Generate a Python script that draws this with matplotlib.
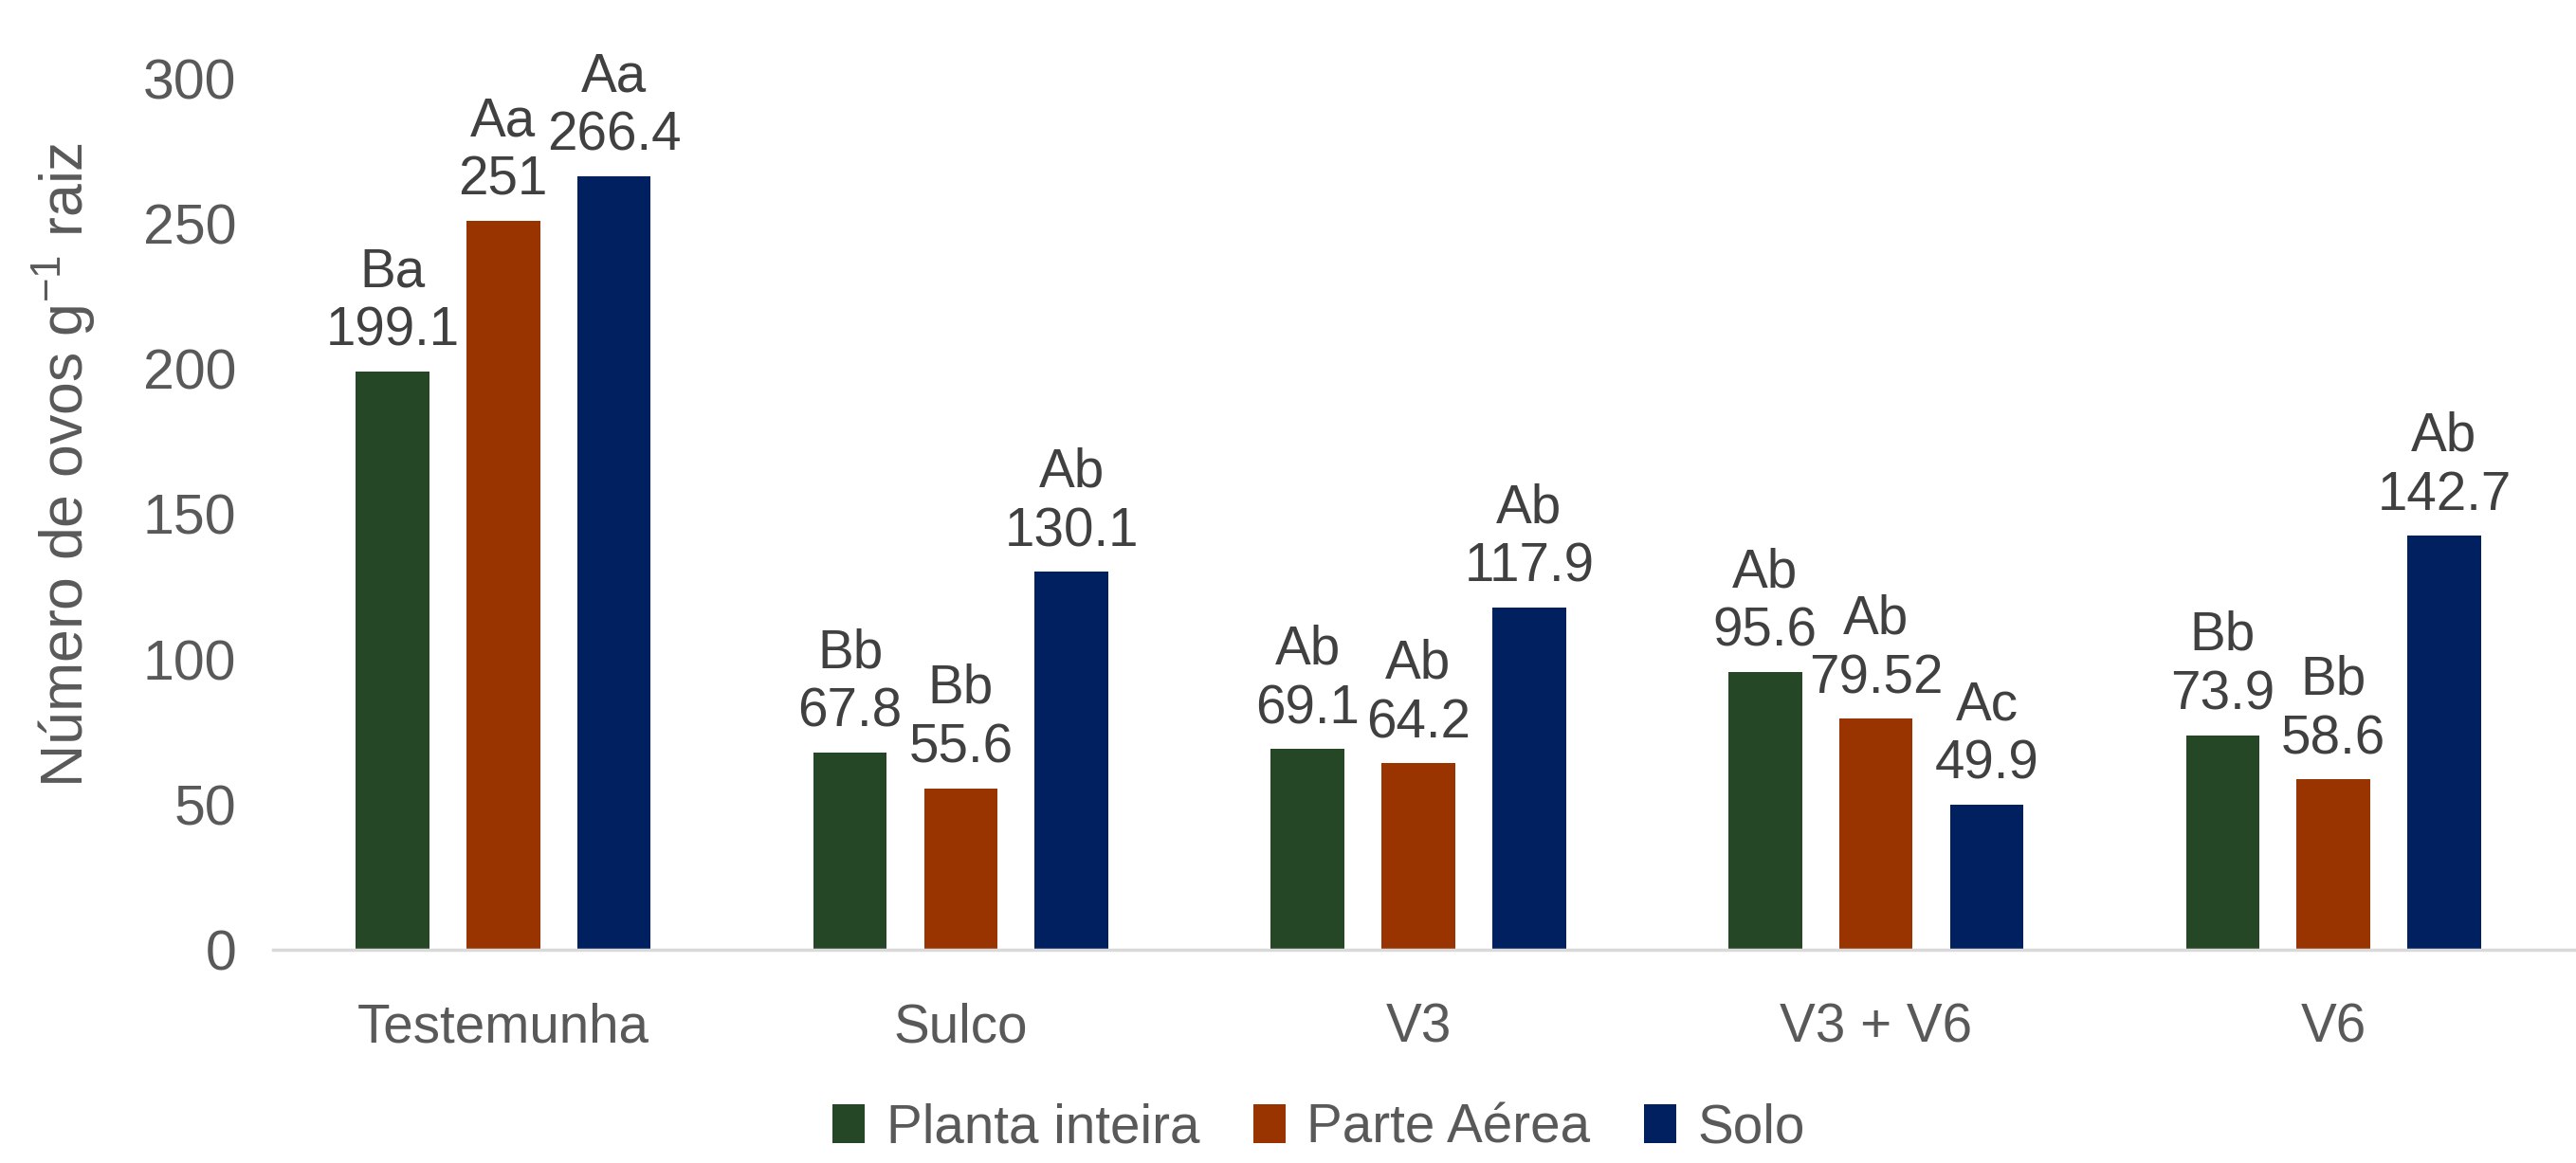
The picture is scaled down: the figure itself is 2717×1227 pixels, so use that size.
import numpy as np
import matplotlib
matplotlib.use("Agg")
import matplotlib.pyplot as plt
from matplotlib import font_manager

# data
categories = ["Testemunha", "Sulco", "V3", "V3 + V6", "V6"]
series_names = ["Planta inteira", "Parte Aérea", "Solo"]
planta_inteira = [199.1, 67.8, 69.1, 95.6, 73.9]
parte_aerea = [251, 55.6, 64.2, 79.52, 58.6]
solo = [266.4, 130.1, 117.9, 49.9, 142.7]
letters_planta = ["Ba", "Bb", "Ab", "Ab", "Bb"]
letters_parte = ["Aa", "Bb", "Ab", "Ab", "Bb"]
letters_solo = ["Aa", "Ab", "Ab", "Ac", "Ab"]
value_text_planta = ["199.1", "67.8", "69.1", "95.6", "73.9"]
value_text_parte = ["251", "55.6", "64.2", "79.52", "58.6"]
value_text_solo = ["266.4", "130.1", "117.9", "49.9", "142.7"]

colors = ["#264726", "#993300", "#002060"]

# a narrow Arial-like face if there is one, else plain Liberation Sans
names = {f.name for f in font_manager.fontManager.ttflist}
if "Liberation Sans Narrow" in names:
    font = ["Liberation Sans Narrow", "DejaVu Sans"]
    k = 1.0
else:
    font = ["Liberation Sans", "DejaVu Sans"]
    k = 0.85

plt.rcParams["mathtext.fontset"] = "custom"
plt.rcParams["mathtext.rm"] = font[0]

fig = plt.figure(figsize=(27.17, 12.27), dpi=100)
ax = fig.add_axes([0.106, 0.1834, 0.894, 0.749])

x = np.arange(len(categories))
width = 0.161
step = 0.242
all_vals = [planta_inteira, parte_aerea, solo]
all_letters = [letters_planta, letters_parte, letters_solo]
all_texts = [value_text_planta, value_text_parte, value_text_solo]

for i, (vals, lets, txts) in enumerate(zip(all_vals, all_letters, all_texts)):
    pos = x + (i - 1) * step
    ax.bar(pos, vals, width, color=colors[i], label=series_names[i], zorder=2)
    for xp, v, l, t in zip(pos, vals, lets, txts):
        ax.annotate(l + "\n" + t, (xp, v), xytext=(0, 11), textcoords="offset points",
                    ha="center", va="bottom", fontsize=48 * k, color="#404040",
                    family=font, linespacing=1.2, annotation_clip=False)

ax.set_ylim(0, 300)
ax.set_xlim(-0.503, 4.53)
ax.set_yticks(range(0, 301, 50))
ax.set_xticks(x)
ax.set_xticklabels(categories, fontsize=48 * k, color="#595959", family=font)
for lab in ax.get_yticklabels():
    lab.set_fontsize(50 * k)
    lab.set_color("#595959")
    lab.set_family(font)
ax.tick_params(axis="y", length=0, pad=28)
ax.tick_params(axis="x", length=0, pad=40)

for s in ["top", "right", "left"]:
    ax.spines[s].set_visible(False)
ax.spines["bottom"].set_color("#d9d9d9")
ax.spines["bottom"].set_linewidth(2.5)

fig.text(0.025, 0.60, r"Número de ovos g$^{-1}$ raiz", rotation=90, ha="center", va="center",
         fontsize=53 * k, color="#595959", family=font)

fig.legend(loc="lower center", bbox_to_anchor=(0.512, 0.008), ncol=3, frameon=False,
           prop={"family": font, "size": 48 * k}, labelcolor="#595959",
           borderpad=0, borderaxespad=0,
           handlelength=0.6, handleheight=0.75, handletextpad=0.4, columnspacing=1.0)

fig.savefig("out.png", dpi=100)
